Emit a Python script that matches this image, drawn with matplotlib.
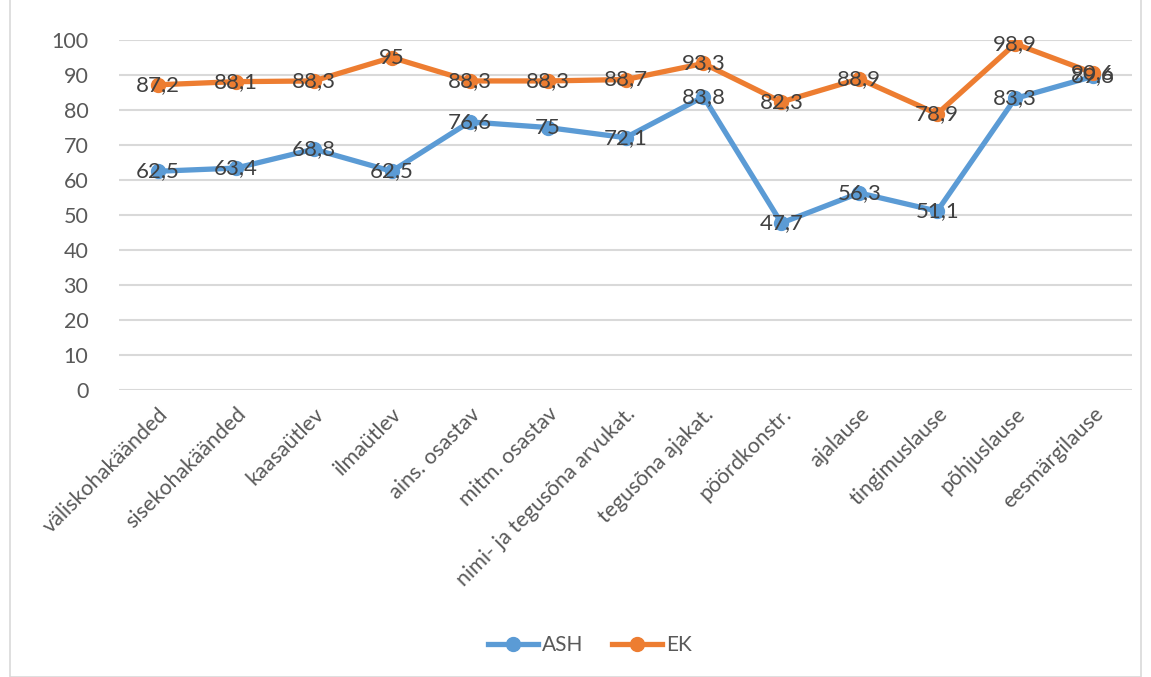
import matplotlib.pyplot as plt
from matplotlib.lines import Line2D
from matplotlib.patches import Rectangle

categories = ["väliskohakäänded", "sisekohakäänded", "kaasaütlev", "ilmaütlev",
              "ains. osastav", "mitm. osastav", "nimi- ja tegusõna arvukat.",
              "tegusõna ajakat.", "pöördkonstr.", "ajalause", "tingimuslause",
              "põhjuslause", "eesmärgilause"]
ash = [62.5, 63.4, 68.8, 62.5, 76.6, 75, 72.1, 83.8, 47.7, 56.3, 51.1, 83.3, 89.6]
ek = [87.2, 88.1, 88.3, 95, 88.3, 88.3, 88.7, 93.3, 82.3, 88.9, 78.9, 98.9, 90.6]
yticks = [0, 10, 20, 30, 40, 50, 60, 70, 80, 90, 100]

plt.rcParams['font.family'] = ['Lato', 'DejaVu Sans']

W, H = 1151, 677
fig = plt.figure(figsize=(W / 100, H / 100), dpi=100)
fig.patches.append(Rectangle((10 / W, 0), 1 - 20 / W, 1.2, transform=fig.transFigure,
                             fill=False, edgecolor="#d9d9d9", lw=1.2))
ax = fig.add_axes([119 / W, 1 - 390 / H, (1132 - 119) / W, 350 / H])

blue = "#5B9BD5"
orange = "#ED7D31"


def fmt(v):
    s = f"{v:g}"
    return s.replace(".", ",")


x = list(range(len(categories)))
for vals, col in [(ash, blue), (ek, orange)]:
    ax.plot(x, vals, color=col, lw=3.8, marker="o", markersize=10, zorder=3,
            solid_capstyle="round")
    for xi, v in zip(x, vals):
        ax.text(xi, v, fmt(v), ha="center", va="center", fontsize=16,
                color="#404040", zorder=4)

ax.set_xlim(-0.5, len(categories) - 0.5)
ax.set_ylim(0, 100)
ax.set_yticks(yticks)
ax.set_yticklabels([str(t) for t in yticks])
ax.set_xticks(x)
ax.set_xticklabels(categories, rotation=45, ha="right", rotation_mode="anchor")
ax.tick_params(axis="both", length=0, labelsize=15.5, labelcolor="#595959")
ax.tick_params(axis="y", pad=22)
ax.tick_params(axis="x", pad=10)
ax.grid(axis="y", color="#d9d9d9", lw=1.5)
ax.set_axisbelow(True)
for s in ax.spines.values():
    s.set_visible(False)

handles = [Line2D([], [], color=blue, lw=3.8, marker="o", markersize=10),
           Line2D([], [], color=orange, lw=3.8, marker="o", markersize=10)]
fig.legend(handles, ["ASH", "EK"], loc="center", bbox_to_anchor=(590 / W, 1 - 645 / H),
           ncol=2, frameon=False, fontsize=15, labelcolor="#595959",
           handlelength=2.4, handletextpad=0.2, columnspacing=1.4)

fig.savefig("out.png", dpi=100)
